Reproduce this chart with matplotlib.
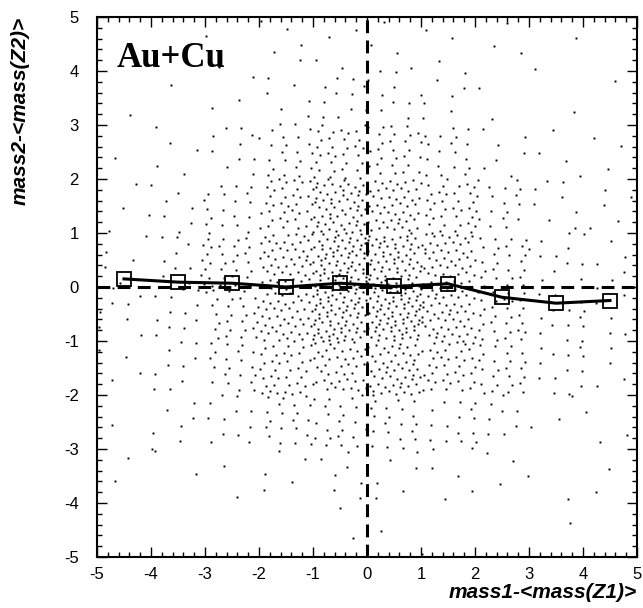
import numpy as np
import matplotlib
matplotlib.use("Agg")
import matplotlib.pyplot as plt
from matplotlib.ticker import MultipleLocator

# profile points (mean of mass2 deviation in bins of mass1 deviation)
prof_x = [-4.5, -3.5, -2.5, -1.5, -0.5, 0.5, 1.5, 2.5, 3.5, 4.5]
prof_y = [0.15, 0.09, 0.07, 0.0, 0.07, 0.01, 0.06, -0.19, -0.30, -0.25]

# event counts per unit cell (rows: y 5..4 down to -4..-5,
# columns: x -5..-4 up to 4..5)
cell_x_edges = [-5, -4, -3, -2, -1, 0, 1, 2, 3, 4, 5]
cell_y_edges = [5, 4, 3, 2, 1, 0, -1, -2, -3, -4, -5]
counts = [
    [0, 0, 2, 5, 4, 4, 3, 3, 2, 0],
    [1, 1, 3, 8, 12, 10, 7, 2, 1, 1],
    [1, 5, 10, 20, 32, 28, 18, 7, 4, 3],
    [4, 8, 18, 38, 60, 50, 35, 18, 8, 5],
    [5, 13, 28, 50, 75, 70, 50, 25, 12, 6],
    [8, 12, 28, 50, 75, 80, 55, 30, 12, 8],
    [4, 10, 20, 38, 45, 55, 40, 25, 12, 5],
    [1, 7, 12, 20, 22, 20, 15, 10, 3, 3],
    [2, 2, 2, 5, 7, 6, 4, 4, 1, 3],
    [0, 0, 0, 0, 2, 1, 1, 0, 1, 0],
]

# spread each cell's events evenly inside the cell (R2 low-discrepancy layout)
g = 1.32471795724
a1, a2 = 1.0 / g, 1.0 / g ** 2
xs, ys = [], []
k = 0
for r, row in enumerate(counts):
    for c, n in enumerate(row):
        x0, x1 = cell_x_edges[c], cell_x_edges[c + 1]
        y0, y1 = cell_y_edges[r + 1], cell_y_edges[r]
        for i in range(n):
            k += 1
            u = (0.5 + a1 * k) % 1.0
            v = (0.5 + a2 * k) % 1.0
            xs.append(x0 + u * (x1 - x0))
            ys.append(y0 + v * (y1 - y0))

plt.rcParams['font.family'] = ['Liberation Sans', 'DejaVu Sans']
plt.rcParams['axes.unicode_minus'] = False

fig = plt.figure(figsize=(6.43, 6.08), dpi=100)
ax = fig.add_axes([97 / 643, 51 / 608, 540 / 643, 540 / 608])

ax.plot(xs, ys, linestyle='none', marker='s', markersize=1.4,
        markeredgewidth=0, color='black')

dash = (0, (4.2, 2.4))
ax.plot([-5, 5], [0, 0], color='black', lw=2.2, linestyle=dash)
ax.plot([0, 0], [-5, 5], color='black', lw=2.2, linestyle=dash)

ax.plot(prof_x, prof_y, color='black', lw=2.2, zorder=4)
ax.plot(prof_x, prof_y, linestyle='none', marker='s', markersize=10,
        markerfacecolor='none', markeredgecolor='black',
        markeredgewidth=1.3, zorder=5)

ax.set_xlim(-5, 5)
ax.set_ylim(-5, 5)
ax.xaxis.set_major_locator(MultipleLocator(1))
ax.yaxis.set_major_locator(MultipleLocator(1))
ax.xaxis.set_minor_locator(MultipleLocator(0.2))
ax.yaxis.set_minor_locator(MultipleLocator(0.2))
ax.tick_params(which='both', direction='in', top=True, right=True,
               labelsize=12)
ax.tick_params(which='major', length=7, width=1.0)
ax.tick_params(which='minor', length=3.6, width=1.0)
ax.tick_params(axis='x', pad=7)
ax.tick_params(axis='y', pad=13)
for s in ax.spines.values():
    s.set_linewidth(1.5)

ax.text(-4.63, 4.08, 'Au+Cu', family='Liberation Serif', fontweight='bold',
        fontsize=25)

fig.text(637 / 643, 1 - 583 / 608, 'mass1-<mass(Z1)>', ha='right',
         va='top', fontsize=15, fontweight='bold', style='italic')
fig.text(20 / 643, 1 - 17 / 608, 'mass2-<mass(Z2)>', ha='center',
         va='top', rotation=90, fontsize=15, fontweight='bold',
         style='italic')

fig.savefig('out.png', dpi=100)
